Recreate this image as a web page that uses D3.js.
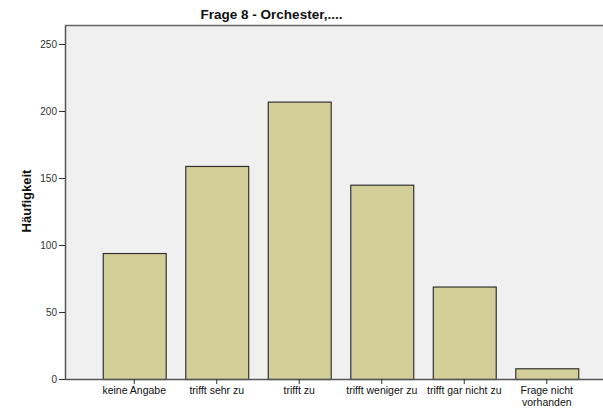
<!DOCTYPE html>
<html><head><meta charset="utf-8">
<script src="https://cdn.jsdelivr.net/npm/d3@7"></script>
<style>body{margin:0;background:#fff;} svg{display:block;}</style>
</head><body>
<svg id="c" width="603" height="409"></svg>
<script>
const categories = ["keine Angabe","trifft sehr zu","trifft zu","trifft weniger zu","trifft gar nicht zu","Frage nicht\nvorhanden"];
const values = [94, 159, 207, 145, 69, 8];
const yTicks = [0, 50, 100, 150, 200, 250];
const title = "Frage 8 - Orchester,....";
const yTitle = "Häufigkeit";

const svg = d3.select("#c");
const plot = {left: 65, right: 603, top: 25.5, bottom: 379};
const font = "Arial, 'Liberation Sans', sans-serif";

const y = d3.scaleLinear().domain([0, 250]).range([379, 44]);
const x = d3.scaleBand().domain(categories).range([78, 603]).paddingInner(0.237).paddingOuter(0.3);

svg.append("rect").attr("x", plot.left).attr("y", plot.top)
  .attr("width", plot.right - plot.left).attr("height", plot.bottom - plot.top)
  .attr("fill", "#f0f0f0");
svg.append("line").attr("x1", plot.left).attr("x2", plot.right).attr("y1", plot.top).attr("y2", plot.top)
  .attr("stroke", "#666").attr("stroke-width", 1.5);

svg.append("g").selectAll("rect").data(values).join("rect")
  .attr("x", (d, i) => x(categories[i]) + 0.5)
  .attr("y", d => y(d) + 0.5)
  .attr("width", x.bandwidth())
  .attr("height", d => y(0) - y(d))
  .attr("fill", "#d3cf98").attr("stroke", "#333").attr("stroke-width", 1.2);

// y axis
const ya = svg.append("g").attr("transform", `translate(${plot.left},0)`)
  .call(d3.axisLeft(y).tickValues(yTicks).tickSize(6).tickPadding(2));
ya.select(".domain").attr("d", `M0.5,${plot.top}V${plot.bottom}`).attr("stroke", "#555").attr("stroke-width", 1.5);
ya.selectAll(".tick line").attr("stroke", "#333");
ya.selectAll(".tick text").attr("font-family", font).attr("font-size", 10).attr("fill", "#333");

// x axis
const xa = svg.append("g").attr("transform", `translate(0,${plot.bottom})`)
  .call(d3.axisBottom(x).tickSize(5).tickFormat(""));
xa.select(".domain").attr("d", `M${plot.left},0.5H${plot.right}`).attr("stroke", "#555").attr("stroke-width", 1.5);
xa.selectAll(".tick line").attr("stroke", "#333");
xa.selectAll(".tick").each(function(d) {
  const lines = d.split("\n");
  const t = d3.select(this).append("text").attr("fill", "#111")
    .attr("font-family", font).attr("font-size", 10.5)
    .attr("text-anchor", "middle");
  lines.forEach((l, i) => t.append("tspan").attr("x", 0).attr("y", 15 + i * 11.5).text(l));
});

svg.append("text").attr("x", 271.5).attr("y", 19).attr("text-anchor", "middle")
  .attr("font-family", font).attr("font-size", 13.5).attr("font-weight", "bold")
  .attr("fill", "#111").text(title);

svg.append("text").attr("transform", "translate(31,201) rotate(-90)").attr("text-anchor", "middle")
  .attr("font-family", font).attr("font-size", 13).attr("font-weight", "bold")
  .attr("fill", "#111").text(yTitle);
</script>
</body></html>
